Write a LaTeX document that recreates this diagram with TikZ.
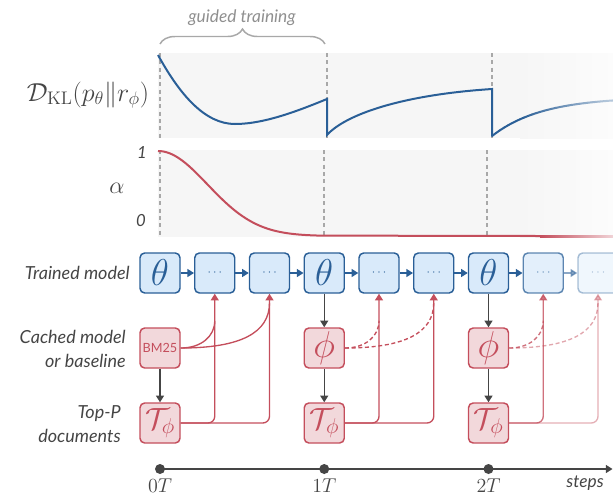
\documentclass[tikz,border=0pt]{standalone}
\usepackage{fix-cm}
\usepackage[no-math]{fontspec}
\setmainfont{Lato}
\usetikzlibrary{arrows.meta,decorations.pathreplacing,calc}
\definecolor{bl}{HTML}{2A5F97}
\definecolor{blfill}{HTML}{D9EAFA}
\definecolor{rd}{HTML}{C44E5C}
\definecolor{rdfill}{HTML}{F2D8DB}
\definecolor{dk}{HTML}{454545}
\definecolor{gr}{HTML}{A8A8A8}
\definecolor{bgc}{HTML}{F6F6F6}
\definecolor{txt}{HTML}{454545}
\tikzset{
 tbox/.style={draw=bl, fill=blfill, line width=1.1pt, rounded corners=3.5pt, minimum width=30pt, minimum height=30pt, inner sep=0pt, text=bl},
 cbox/.style={tbox, draw=rd, fill=rdfill, text=rd},
 lab/.style={font=\fontsize{13.5}{18}\selectfont\itshape, text=txt, align=right, anchor=east, inner sep=0pt},
 tipa/.style={-{Triangle[length=5pt,width=6pt]}},
 barrow/.style={tipa, draw=bl, line width=1.1pt},
 darrow/.style={tipa, draw=dk, line width=1pt},
 rarrow/.style={tipa, draw=rd, line width=1pt, rounded corners=5pt},
 rcurve/.style={draw=rd, line width=1pt},
 rdash/.style={rcurve, dash pattern=on 3pt off 2pt},
 vdash/.style={draw=gr, line width=1.1pt, dash pattern=on 3pt off 2.5pt},
 dot/.style={circle, fill=dk, minimum size=7.5pt, inner sep=0pt},
 bigm/.style={font=\fontsize{28}{28}\selectfont},
 calm/.style={font=\fontsize{23}{23}\selectfont},
 dotsm/.style={font=\fontsize{9}{9}\selectfont},
 klline/.style={draw=bl, line width=1.5pt},
 aline/.style={draw=rd, line width=1.5pt},
}
\begin{document}
\begin{tikzpicture}[x=0.75pt,y=-0.75pt]
\useasboundingbox (0,0) rectangle (613,497);

% ---------- panel backgrounds ----------
\fill[bgc] (158,53) rectangle (520,138);
\shade[left color=bgc, right color=bgc!35!white] (520,53) rectangle (613,138);
\fill[bgc] (158,150) rectangle (520,237);
\shade[left color=bgc, right color=bgc!35!white] (520,150) rectangle (613,237);

% dashed guides
\draw[vdash] (160,53) -- (160,138);
\draw[vdash] (327,53) -- (327,138);
\draw[vdash] (492,53) -- (492,138);
\draw[vdash] (160,150) -- (160,237);
\draw[vdash] (324,150) -- (324,237);
\draw[vdash] (487,150) -- (487,237);

% brace
\draw[gr, line width=1.1pt, decorate, decoration={brace, amplitude=11.25pt}] (160,44) -- (325,44);
\node[font=\fontsize{13}{13}\selectfont\itshape, text=gr!85!black] (gt) at (242,18) {guided training};

% KL curve
\draw[klline] (158,55) .. controls (180,95) and (205,124) .. (235,124)
  .. controls (265,124) and (300,110) .. (327,99) -- (327,135)
  .. controls (345,115) and (400,95) .. (492,89) -- (492,136);
\foreach \xa in {492,496,...,612}{
  \pgfmathsetmacro\xb{\xa+4}
  \pgfmathsetmacro\ya{97+39*exp(-(\xa-492)/50)}
  \pgfmathsetmacro\yb{97+39*exp(-(\xb-492)/50)}
  \pgfmathsetmacro\pc{min(100,max(35,100-(\xa-520)*0.75))}
  \draw[klline, line cap=round, color=bl!\pc!white] (\xa,\ya) -- (\xb,\yb);
}
\node[text=txt, font=\fontsize{19.5}{20}\selectfont] (kl) at (88,95) {$\mathcal{D}_{\mathrm{KL}}(p_\theta\|r_\phi)$};

% alpha curve
\draw[aline] plot[domain=158:320, samples=60] ({\x},{151+85*(1-exp(-((\x-158)/70)^2))}) -- (540,236);
\shade[left color=rd, right color=rd!25!white] (540,235) rectangle (613,237);
\node[text=txt, font=\fontsize{18}{18}\selectfont] (al) at (117,188) {$\alpha$};
\node[text=txt, font=\fontsize{12.5}{12.5}\selectfont\itshape] (one) at (142,153) {1};
\node[text=txt, font=\fontsize{12.5}{12.5}\selectfont\itshape] (zero) at (141,221) {0};

% ---------- row labels ----------
\node[lab] (l1) at (130,273) {Trained model};
\node[lab] (l2) at (126,349) {Cached model\\or baseline};
\node[lab] (l3) at (121,424) {Top-P\\documents};

% ---------- trained model row ----------
\node[tbox, bigm] (m0) at (160,273) {$\theta$};
\node[tbox, dotsm] (m1) at (214.75,273) {$\cdots$};
\node[tbox, dotsm] (m2) at (269.5,273) {$\cdots$};
\node[tbox, bigm] (m3) at (324.25,273) {$\theta$};
\node[tbox, dotsm] (m4) at (379,273) {$\cdots$};
\node[tbox, dotsm] (m5) at (433.75,273) {$\cdots$};
\node[tbox, bigm] (m6) at (488.5,273) {$\theta$};
\node[tbox, dotsm, opacity=0.75] (m7) at (543.25,273) {$\cdots$};
\node[tbox, dotsm, opacity=0.4] (m8) at (598,273) {$\cdots$};

\draw[barrow] (m0) -- (m1);
\draw[barrow] (m1) -- (m2);
\draw[barrow] (m2) -- (m3);
\draw[barrow] (m3) -- (m4);
\draw[barrow] (m4) -- (m5);
\draw[barrow] (m5) -- (m6);
\draw[barrow] (m6) -- (m7);
\draw[barrow, opacity=0.55] (m7) -- (m8);

% ---------- cached model row ----------
\node[cbox, font=\fontsize{9.5}{9.5}\selectfont] (c0) at (160,348) {BM25};
\node[cbox, bigm] (c3) at (324.25,348) {$\phi$};
\node[cbox, bigm] (c6) at (488.5,348) {$\phi$};

% ---------- top-P row ----------
\node[cbox, calm] (t0) at (160,423) {$\mathcal{T}_\phi$};
\node[cbox, calm] (t3) at (324.25,423) {$\mathcal{T}_\phi$};
\node[cbox, calm] (t6) at (488.5,423) {$\mathcal{T}_\phi$};

% vertical dark arrows
\draw[darrow] (m3) -- (c3);
\draw[darrow] (m6) -- (c6);
\draw[darrow] (c0) -- (t0);
\draw[darrow] (c3) -- (t3);
\draw[darrow] (c6) -- (t6);

% red arrows from top-P documents
\draw[rarrow] (t0.east) -| (m1.south);
\draw[rarrow] (t0.east) -| (m2.south);
\draw[rarrow] (t3.east) -| (m4.south);
\draw[rarrow] (t3.east) -| (m5.south);
\draw[rarrow, opacity=0.8] (t6.east) -| (m7.south);
\draw[rarrow, opacity=0.45] (t6.east) -| (m8.south);

% junction points
\coordinate (j01) at ($(m1.south)+(0,27)$);
\coordinate (j02) at ($(m2.south)+(0,9)$);
\coordinate (j31) at ($(m4.south)+(0,27)$);
\coordinate (j32) at ($(m5.south)+(0,9)$);
\coordinate (j61) at ($(m7.south)+(0,27)$);
\coordinate (j62) at ($(m8.south)+(0,9)$);

% curves from cached model
\draw[rcurve] (c0.east) .. controls +(20,0) and +(0,16) .. (j01);
\draw[rcurve] (c0.east) .. controls +(60,0) and +(0,30) .. (j02);
\draw[rdash] (c3.east) .. controls +(20,0) and +(0,16) .. (j31);
\draw[rdash] (c3.east) .. controls +(60,0) and +(0,30) .. (j32);
\draw[rdash, opacity=0.8] (c6.east) .. controls +(20,0) and +(0,16) .. (j61);
\draw[rdash, opacity=0.5] (c6.east) .. controls +(60,0) and +(0,30) .. (j62);

% ---------- timeline ----------
\node[dot] (p0) at (160,469) {};
\node[dot] (p1) at (324.25,469) {};
\node[dot] (p2) at (488.5,469) {};
\coordinate (pend) at (612.5,469);
\draw[dk, line width=1.1pt, tipa] (p0.center) -- (pend);
\node[anchor=base, text=dk, font=\fontsize{15}{15}\selectfont, inner sep=0pt] (n0) at (160,492.5) {$0T$};
\node[anchor=base, text=dk, font=\fontsize{15}{15}\selectfont, inner sep=0pt] (n1) at (324.25,492.5) {$1T$};
\node[anchor=base, text=dk, font=\fontsize{15}{15}\selectfont, inner sep=0pt] (n2) at (488.5,492.5) {$2T$};
\node[text=txt, font=\fontsize{13}{13}\selectfont\itshape] (st) at (585,483) {steps};
\end{tikzpicture}
\end{document}
